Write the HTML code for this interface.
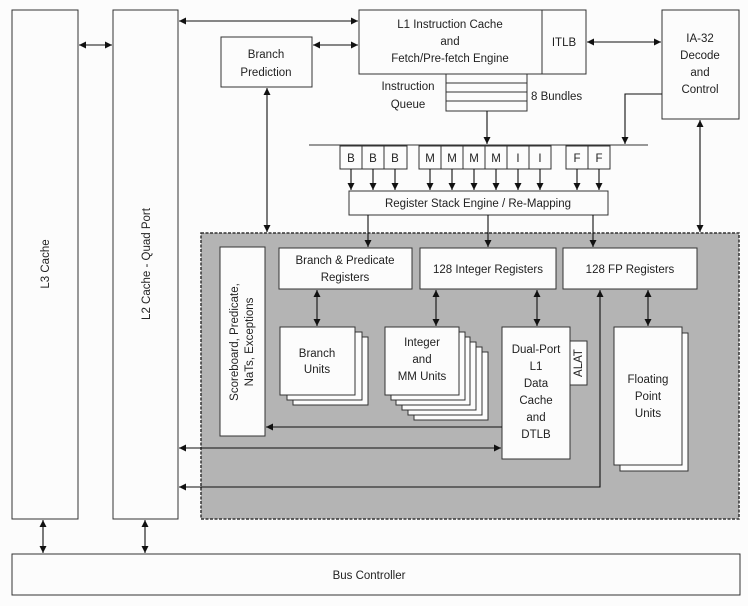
<!DOCTYPE html>
<html><head><style>
html,body{margin:0;padding:0;background:#fff;}
svg{display:block;font-family:"Liberation Sans",sans-serif;}
text{font-size:11.5px;fill:#222;text-anchor:middle;}
</style></head><body>
<svg width="748" height="606" viewBox="0 0 748 606" xmlns="http://www.w3.org/2000/svg">
<defs>
<marker id="a" viewBox="0 0 10 10" refX="10" refY="5" markerWidth="7" markerHeight="7" orient="auto-start-reverse" markerUnits="userSpaceOnUse"><path d="M0,0 L10,5 L0,10 z" fill="#111"/></marker>
</defs>
<rect width="748" height="606" fill="#fcfcfc"/>
<g stroke="#333" stroke-width="1" fill="#fcfcfc">
<!-- gray area -->
<rect x="201" y="233" width="538" height="286" fill="#b4b4b4" stroke="#333" stroke-dasharray="3,1.5" stroke-width="1.5"/>
<rect x="12" y="10" width="66" height="509"/>
<rect x="113" y="10" width="65" height="509"/>
<rect x="221" y="37" width="91" height="50"/>
<rect x="359" y="10" width="183" height="64"/>
<rect x="542" y="10" width="44" height="64"/>
<rect x="662" y="10" width="77" height="109"/>
<rect x="446" y="74" width="81" height="37"/>
<line x1="446" y1="83" x2="527" y2="83"/><line x1="446" y1="92" x2="527" y2="92"/><line x1="446" y1="101" x2="527" y2="101"/>
<line x1="309" y1="145" x2="648" y2="145"/>
<!-- slots -->
<rect x="340" y="146" width="22" height="23"/><rect x="362" y="146" width="22" height="23"/><rect x="384" y="146" width="23" height="23"/>
<rect x="419" y="146" width="22" height="23"/><rect x="441" y="146" width="22" height="23"/><rect x="463" y="146" width="22" height="23"/><rect x="485" y="146" width="22" height="23"/><rect x="507" y="146" width="22" height="23"/><rect x="529" y="146" width="22" height="23"/>
<rect x="566" y="146" width="22" height="23"/><rect x="588" y="146" width="22" height="23"/>
<rect x="349" y="191" width="259" height="24"/>
<rect x="220" y="247" width="45" height="189"/>
<rect x="279" y="248" width="133" height="41"/>
<rect x="420" y="248" width="136" height="41"/>
<rect x="563" y="248" width="134" height="41"/>
<!-- branch units -->
<rect x="293" y="337" width="75" height="68"/><rect x="287" y="332" width="75" height="68"/><rect x="280" y="327" width="75" height="68"/>
<!-- int units -->
<rect x="414" y="352" width="74" height="68"/><rect x="408" y="347" width="74" height="68"/><rect x="402" y="342" width="74" height="68"/><rect x="396" y="337" width="74" height="68"/><rect x="391" y="332" width="74" height="68"/><rect x="385" y="327" width="74" height="68"/>
<rect x="502" y="327" width="68" height="132"/>
<rect x="570" y="341" width="17" height="44"/>
<rect x="620" y="333" width="68" height="138"/><rect x="614" y="327" width="68" height="138"/>
<rect x="12" y="554" width="728" height="41"/>
</g>
<g stroke="#111" stroke-width="1.1" fill="none">
<line x1="79" y1="45" x2="112" y2="45" marker-start="url(#a)" marker-end="url(#a)"/>
<line x1="179" y1="21" x2="358" y2="21" marker-start="url(#a)" marker-end="url(#a)"/>
<line x1="313" y1="45" x2="358" y2="45" marker-start="url(#a)" marker-end="url(#a)"/>
<line x1="587" y1="42" x2="661" y2="42" marker-start="url(#a)" marker-end="url(#a)"/>
<line x1="487" y1="111" x2="487" y2="144" marker-end="url(#a)"/>
<polyline points="662,94 625,94 625,144" marker-end="url(#a)"/>
<line x1="267" y1="88" x2="267" y2="232" marker-start="url(#a)" marker-end="url(#a)"/>
<line x1="700" y1="120" x2="700" y2="232" marker-start="url(#a)" marker-end="url(#a)"/>
<line x1="351" y1="169" x2="351" y2="190" marker-end="url(#a)"/>
<line x1="373" y1="169" x2="373" y2="190" marker-end="url(#a)"/>
<line x1="395" y1="169" x2="395" y2="190" marker-end="url(#a)"/>
<line x1="430" y1="169" x2="430" y2="190" marker-end="url(#a)"/>
<line x1="452" y1="169" x2="452" y2="190" marker-end="url(#a)"/>
<line x1="474" y1="169" x2="474" y2="190" marker-end="url(#a)"/>
<line x1="496" y1="169" x2="496" y2="190" marker-end="url(#a)"/>
<line x1="518" y1="169" x2="518" y2="190" marker-end="url(#a)"/>
<line x1="540" y1="169" x2="540" y2="190" marker-end="url(#a)"/>
<line x1="577" y1="169" x2="577" y2="190" marker-end="url(#a)"/>
<line x1="599" y1="169" x2="599" y2="190" marker-end="url(#a)"/>
<line x1="368" y1="215" x2="368" y2="247" marker-end="url(#a)"/>
<line x1="488" y1="215" x2="488" y2="247" marker-end="url(#a)"/>
<line x1="593" y1="215" x2="593" y2="247" marker-end="url(#a)"/>
<line x1="317" y1="290" x2="317" y2="326" marker-start="url(#a)" marker-end="url(#a)"/>
<line x1="436" y1="290" x2="436" y2="326" marker-start="url(#a)" marker-end="url(#a)"/>
<line x1="537" y1="290" x2="537" y2="326" marker-start="url(#a)" marker-end="url(#a)"/>
<line x1="648" y1="290" x2="648" y2="326" marker-start="url(#a)" marker-end="url(#a)"/>
<line x1="502" y1="427" x2="266" y2="427" marker-end="url(#a)"/>
<line x1="179" y1="448" x2="501" y2="448" marker-start="url(#a)" marker-end="url(#a)"/>
<polyline points="179,487 600,487 600,290" marker-start="url(#a)" marker-end="url(#a)"/>
<line x1="43" y1="520" x2="43" y2="553" marker-start="url(#a)" marker-end="url(#a)"/>
<line x1="145" y1="520" x2="145" y2="553" marker-start="url(#a)" marker-end="url(#a)"/>
</g>
<text x="266" y="58">Branch</text><text x="266" y="76">Prediction</text>
<text x="450" y="28">L1 Instruction Cache</text><text x="450" y="45">and</text><text x="450" y="62">Fetch/Pre-fetch Engine</text>
<text x="564" y="46">ITLB</text>
<text x="700" y="42">IA-32</text><text x="700" y="59">Decode</text><text x="700" y="76">and</text><text x="700" y="93">Control</text>
<text x="408" y="90">Instruction</text><text x="408" y="108">Queue</text>
<text x="531" y="100" style="text-anchor:start">8 Bundles</text>
<g><text x="351" y="162">B</text><text x="373" y="162">B</text><text x="395" y="162">B</text>
<text x="430" y="162">M</text><text x="452" y="162">M</text><text x="474" y="162">M</text><text x="496" y="162">M</text><text x="518" y="162">I</text><text x="540" y="162">I</text>
<text x="577" y="162">F</text><text x="599" y="162">F</text></g>
<text x="478" y="207">Register Stack Engine / Re-Mapping</text>
<text x="345" y="264">Branch &amp; Predicate</text><text x="345" y="281">Registers</text>
<text x="488" y="273">128 Integer Registers</text>
<text x="630" y="273">128 FP Registers</text>
<text x="317" y="357">Branch</text><text x="317" y="373">Units</text>
<text x="422" y="346">Integer</text><text x="422" y="363">and</text><text x="422" y="380">MM Units</text>
<text x="536" y="353">Dual-Port</text><text x="536" y="370">L1</text><text x="536" y="387">Data</text><text x="536" y="404">Cache</text><text x="536" y="421">and</text><text x="536" y="438">DTLB</text>
<text transform="translate(582,363) rotate(-90)">ALAT</text>
<text x="648" y="383">Floating</text><text x="648" y="400">Point</text><text x="648" y="417">Units</text>
<text transform="translate(238,342) rotate(-90)">Scoreboard, Predicate,</text>
<text transform="translate(253,342) rotate(-90)">NaTs, Exceptions</text>
<text transform="translate(49,264) rotate(-90)">L3 Cache</text>
<text transform="translate(150,264) rotate(-90)">L2 Cache - Quad Port</text>
<text x="369" y="579">Bus Controller</text>
</svg>
</body></html>
